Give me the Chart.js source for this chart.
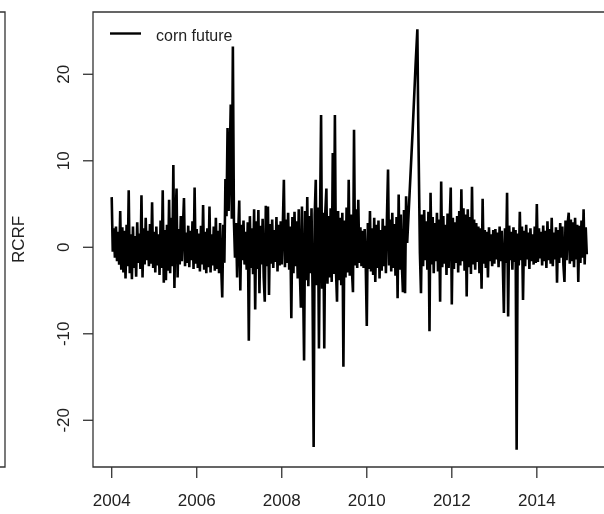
<!DOCTYPE html>
<html lang="en">
<head>
<meta charset="UTF-8" />
<title>RCRF corn future</title>
<script src="https://cdn.jsdelivr.net/npm/chart.js"></script>
<style>
  html, body { margin: 0; padding: 0; background: #fff; }
</style>
</head>
<body>
<canvas id="rcrfChart" width="604" height="514"></canvas>

<script>
// returns, 40 obs per year (estimated)
const rcrf2004 = [5.8, -0.5, 2.2, -1.2, 2.4, -1.6, 1.8, -2.0, 4.2, -2.6, 2.3, -2.9, 1.9, -3.6, 2.6, -2.2, 6.6, -3.0, 1.5, -3.7,
  2.4, -2.4, 1.3, -3.4, 2.9, -1.8, 1.6, -2.5, 6.0, -3.5, 2.2, -2.0, 3.4, -1.5, 1.9, -2.2, 2.7, -1.9, 5.2, -2.4];
const rcrf2005 = [1.8, -2.9, 2.4, -2.1, 1.5, -3.2, 3.1, -2.4, 6.6, -4.1, 2.0, -3.8, 2.6, -2.7, 5.5, -3.0, 3.4, -2.2, 9.5, -4.7,
  2.8, 6.8, -3.5, 2.1, -2.0, 3.6, -1.6, 2.2, 5.7, -2.2, 1.7, -1.8, 2.5, -2.3, 1.9, -1.5, 3.0, -2.5, 6.9, -1.9];
const rcrf2006 = [2.1, -2.4, 1.6, -2.8, 2.5, -2.0, 4.9, -2.6, 1.8, -3.0, 2.2, -2.3, 4.7, -2.9, 1.5, -2.1, 2.4, -2.7, 3.4, -2.5,
  1.9, -3.0, 2.8, -2.2, -5.8, 2.6, -1.8, 7.9, 3.6, 13.8, 4.2, 9.8, 16.5, 3.3, 23.2, 3.0, -1.2, 2.8, -3.5, 1.6];
const rcrf2007 = [5.4, -5.0, 2.6, -1.5, 3.1, -2.0, 1.8, -2.6, 2.9, -10.8, 3.6, -2.4, 2.2, -3.1, 4.4, -7.2, 3.0, -2.5, 4.3, -5.3,
  2.5, -2.0, 3.3, -3.4, -6.3, 4.8, -2.2, 4.7, -5.5, 2.7, -1.9, 3.2, -2.4, 2.0, -1.7, 3.5, -2.8, 2.6, -2.1, 3.0];
const rcrf2008 = [-2.0, 2.6, 7.8, -2.3, 3.2, -1.8, 4.0, -2.6, 2.4, -8.2, 3.5, -3.0, 4.1, -2.2, 3.0, -3.6, 4.4, -2.8, -7.0, 4.7,
  -3.2, -13.1, 4.2, -3.8, 5.8, -4.5, 3.6, -3.0, 4.5, -5.2, -23.1, 3.8, 7.8, -4.4, 4.6, -11.7, 3.2, 15.3, -4.8, 4.0];
const rcrf2009 = [-11.7, 4.1, 6.8, -4.2, 3.6, -3.5, 4.5, -4.0, 10.9, -3.1, 15.3, -2.6, -6.3, 4.2, -3.8, 3.4, -4.4, 4.0, -13.8, 3.1,
  -3.5, 4.6, -2.9, 7.8, -3.3, 3.8, -2.6, -5.2, 13.6, -2.1, 4.4, -2.4, 5.5, -1.8, 2.3, -2.2, 1.9, -2.4, 2.1, -1.9];
const rcrf2010 = [-9.1, 2.8, -2.5, 4.2, -2.8, 2.2, -3.2, 3.4, -4.0, 2.6, -2.4, 3.1, -3.6, 2.0, -2.7, 3.3, -2.2, 2.5, -3.0, 3.6,
  9.0, -2.1, 3.2, -2.8, 4.0, -2.4, 2.7, -3.3, 3.5, -5.9, 6.1, -2.6, 3.8, -2.0, -5.2, 4.3, -5.3, 5.9, 0.5];
// missing stretch early 2011, only these days were read
const jumpYears = [2011.08, 2011.15, 2011.19, 2011.21];
const jumpValues = [13.6, 21.3, 25.2, 14.7];
// 2011 picks up again at obs 10
const rcrf2011 = [-0.7, -5.3, 3.8, -2.2, 4.3, -1.5, 3.0, -2.6, 4.1, -9.7, 6.3, -2.0, 3.5, -3.0, 2.8, -1.6, 4.0, -2.8, 3.2, -6.3,
  7.6, -2.3, 3.6, -1.9, 2.6, -3.2, 3.9, -2.4, 2.9, 6.9];
const rcrf2012 = [-6.6, 3.4, -2.5, 2.9, -1.8, 3.6, -2.9, 4.2, -2.1, 6.7, -1.6, 4.5, -2.7, 3.8, -5.7, 4.4, -2.3, 3.5, -3.1, 7.0,
  -2.0, 3.2, -2.6, 2.8, -1.7, 2.4, -3.0, 2.2, -4.8, 5.6, -1.9, 2.0, -2.4, 1.8, -3.5, 2.3, -1.6, 1.5, -2.2, 2.0];
const rcrf2013 = [-1.9, 2.1, -1.4, 1.7, -2.3, 2.4, -1.6, 1.9, -2.0, -7.6, 2.2, -1.8, 6.3, -8.0, 2.5, -1.5, 1.8, -2.6, 2.3, -1.7,
  2.0, -23.4, 1.6, -2.1, 4.1, -1.5, 2.4, -6.1, 1.9, -2.2, 2.6, -1.4, 1.7, -2.5, 2.2, -1.6, 1.5, -2.0, 2.4, -1.8];
const rcrf2014 = [5.0, -1.7, 2.2, -1.3, 1.8, -2.1, 2.5, -1.6, 1.9, -2.4, 3.0, -1.5, 2.1, -1.9, 3.4, -2.2, 1.7, -1.4, 2.3, -4.1,
  2.0, -1.8, 2.8, -1.2, 2.4, -2.0, -4.0, 3.1, -1.5, 2.7, 4.0, -1.9, 3.2, -1.6, 2.9, -2.3, 3.4, -1.4, 2.6, -4.0];
const rcrf2015 = [2.5, -1.8, 3.1, -1.2, 4.4, -2.0, 2.3, -0.8];

const xTicks = [2004, 2006, 2008, 2010, 2012, 2014];
const yTicks = [-20, -10, 0, 10, 20];
const seriesLabel = "corn future";
const yTitle = "RCRF";

const perYear = 40;
const points = [];
function addYear(year, values, skip) {
  values.forEach((v, i) => points.push({ x: year + (i + skip) / perYear, y: v }));
}
addYear(2004, rcrf2004, 0);
addYear(2005, rcrf2005, 0);
addYear(2006, rcrf2006, 0);
addYear(2007, rcrf2007, 0);
addYear(2008, rcrf2008, 0);
addYear(2009, rcrf2009, 0);
addYear(2010, rcrf2010, 0);
jumpYears.forEach((x, i) => points.push({ x: x, y: jumpValues[i] }));
addYear(2011, rcrf2011, 10);
addYear(2012, rcrf2012, 0);
addYear(2013, rcrf2013, 0);
addYear(2014, rcrf2014, 0);
addYear(2015, rcrf2015, 0);

const FONT = '"Liberation Sans", Arial, sans-serif';

// R-style frame, ticks and labels
const rFrame = {
  id: "rFrame",
  afterDraw(chart) {
    const ctx = chart.ctx;
    const a = chart.chartArea;
    const xs = chart.scales.x;
    const ys = chart.scales.y;
    ctx.save();
    ctx.strokeStyle = "#333";
    ctx.lineWidth = 1.3;

    // box (right side falls off the canvas)
    ctx.beginPath();
    ctx.moveTo(a.right + 5, a.top);
    ctx.lineTo(a.left, a.top);
    ctx.lineTo(a.left, a.bottom);
    ctx.lineTo(a.right + 5, a.bottom);
    ctx.stroke();

    // edge of the neighbouring panel
    ctx.beginPath();
    ctx.moveTo(0, a.top);
    ctx.lineTo(5, a.top);
    ctx.lineTo(5, a.bottom);
    ctx.lineTo(0, a.bottom);
    ctx.stroke();

    ctx.fillStyle = "#222";
    ctx.font = "17px " + FONT;

    // x axis
    ctx.textAlign = "center";
    ctx.textBaseline = "alphabetic";
    xTicks.forEach(t => {
      const px = xs.getPixelForValue(t);
      ctx.beginPath();
      ctx.moveTo(px, a.bottom);
      ctx.lineTo(px, a.bottom + 11);
      ctx.stroke();
      ctx.fillText(String(t), px, 506);
    });

    // y axis
    yTicks.forEach(t => {
      const py = ys.getPixelForValue(t);
      ctx.beginPath();
      ctx.moveTo(a.left, py);
      ctx.lineTo(a.left - 10, py);
      ctx.stroke();
      ctx.save();
      ctx.translate(64.5, py);
      ctx.rotate(-Math.PI / 2);
      ctx.textBaseline = "middle";
      ctx.fillText(String(t), 0, 0);
      ctx.restore();
    });

    // y title
    ctx.save();
    ctx.translate(19.5, (a.top + a.bottom) / 2);
    ctx.rotate(-Math.PI / 2);
    ctx.textBaseline = "middle";
    ctx.fillText(yTitle, 0, 0);
    ctx.restore();

    // legend
    ctx.strokeStyle = "#000";
    ctx.lineWidth = 2.4;
    ctx.beginPath();
    ctx.moveTo(110, 33.5);
    ctx.lineTo(141, 33.5);
    ctx.stroke();
    ctx.font = "16px " + FONT;
    ctx.textAlign = "left";
    ctx.fillText(seriesLabel, 156, 41);
    ctx.restore();
  }
};

const ctx = document.getElementById("rcrfChart").getContext("2d");
new Chart(ctx, {
  type: "line",
  data: {
    datasets: [{
      label: seriesLabel,
      data: points,
      borderColor: "#000",
      borderWidth: 2.6,
      borderJoinStyle: "miter",
      pointRadius: 0,
      tension: 0,
      fill: false
    }]
  },
  options: {
    responsive: false,
    animation: false,
    events: [],
    layout: { padding: { left: 93, top: 12, right: 0, bottom: 47 } },
    plugins: {
      legend: { display: false },
      tooltip: { enabled: false }
    },
    scales: {
      x: { type: "linear", min: 2003.56, max: 2015.58, display: false },
      y: { min: -25.4, max: 27.2, display: false }
    }
  },
  plugins: [rFrame]
});
</script>
</body>
</html>
